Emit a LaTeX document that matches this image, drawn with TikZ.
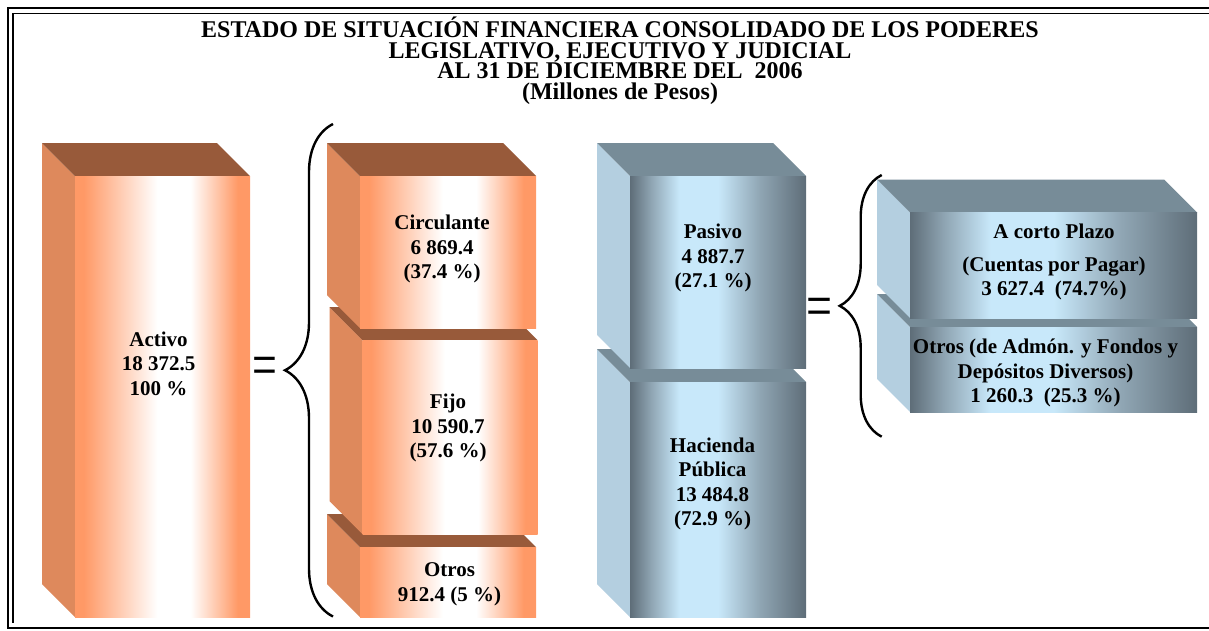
\documentclass[tikz,border=0pt]{standalone}
\usepackage{fontspec}
\setmainfont{Liberation Serif}
\usepackage{graphicx}
\usetikzlibrary{decorations.pathreplacing}

\definecolor{orgfront}{RGB}{255,153,102}
\definecolor{orgside}{RGB}{222,137,92}
\definecolor{orgtop}{RGB}{152,90,58}
\definecolor{bludark}{RGB}{94,109,120}
\definecolor{blumid}{RGB}{143,165,179}
\definecolor{blulight}{RGB}{200,232,250}
\definecolor{bluside}{RGB}{180,207,224}
\definecolor{blutop}{RGB}{119,140,152}

\pgfdeclarehorizontalshading{orgshade}{100bp}{color(0bp)=(orgfront); color(27.5bp)=(orgfront); color(48.5bp)=(white); color(58bp)=(white); color(71.5bp)=(orgfront); color(100bp)=(orgfront)}
\pgfdeclarehorizontalshading{blushade}{100bp}{color(0bp)=(bludark); color(25bp)=(bludark); color(31bp)=(blumid); color(39bp)=(blulight); color(50bp)=(blulight); color(62bp)=(blumid); color(75bp)=(bludark); color(100bp)=(bludark)}

\tikzset{
	boxtext/.style={font=\bfseries\fontsize{21}{24.5}\selectfont, align=center, inner sep=0pt, anchor=north},
	bigbrace/.style={decorate, decoration={brace, amplitude=#1}, line width=2.4pt},
	eqsign/.style={inner sep=0pt, font=\fontsize{40}{40}\selectfont}
}

% block: scheme, front face left, top, right, bottom
\newcommand{\block}[5]{%
	\fill[#1side] (#2-33, #3-33) -- (#2, #3) -- (#2, #5) -- (#2-33, #5-33) -- cycle;
	\fill[#1top] (#2-33, #3-33) -- (#4-33, #3-33) -- (#4, #3) -- (#2, #3) -- cycle;
	\shade[shading=#1shade] (#2, #3) rectangle (#4, #5);
}

\begin{document}
\begin{tikzpicture}[x=1pt, y=-1pt]
	\useasboundingbox (0, 0) rectangle (1209, 630);
	
	% frame
	\draw[line width=2.4pt] (1209, 8) -- (8, 8) -- (8, 628) -- (1209, 628);
	\draw[line width=1.5pt] (1209, 13.5) -- (13, 13.5) -- (13, 623);
	
	\node[font=\bfseries\fontsize{24}{20.8}\selectfont, align=center, inner sep=0pt, anchor=north] (title) at (620, 16.5)
	{ESTADO DE SITUACIÓN FINANCIERA CONSOLIDADO DE LOS PODERES\\
		LEGISLATIVO, EJECUTIVO Y JUDICIAL\\
		AL 31 DE DICIEMBRE DEL\ \ 2006\\
		(Millones de Pesos)};
	
	% blocks, lower ones first
	\foreach \sch/\l/\t/\r/\b in {org/75/176/250/617, org/360/547/536/617, org/362.5/340/537.5/534,
		org/360/176/536/328, blu/630/382/806/617, blu/630/176/806/368, blu/910/327/1197/412, blu/910/212.5/1197/318}{
		\block{\sch}{\l}{\t}{\r}{\b}
	}
	
	\node[boxtext] (activo) at (158.5, 331.5) {Activo\\18 372.5\\100 \%};
	\node[boxtext] (circ) at (442, 215) {Circulante\\6 869.4\\(37.4 \%)};
	\node[boxtext] (fijo) at (448, 394) {Fijo\\10 590.7\\(57.6 \%)};
	\node[boxtext] (otrosact) at (449.5, 562.5) {Otros\\912.4 (5 \%)};
	\node[boxtext] (pasivo) at (713, 224) {Pasivo\\4 887.7\\(27.1 \%)};
	\node[boxtext] (hacienda) at (712.5, 437.5) {Hacienda\\Pública\\13 484.8\\(72.9 \%)};
	\node[boxtext] (corto) at (1054, 224) {A corto Plazo\\[8pt](Cuentas por Pagar)\\3 627.4\ \ (74.7\%)};
	\node[boxtext] (otrospas) at (1045.5, 339) {Otros (de Admón. y Fondos y\\Depósitos Diversos)\\1 260.3\ \ (25.3 \%)};
	
	% equals and braces
	\node[eqsign] (eqact) at (265, 372) {\scalebox{1.1}[1.6]{=}};
	\node[eqsign] (eqpas) at (819.7, 312.7) {\scalebox{1.15}[1.6]{=}};
	\coordinate (actbot) at (333, 616.5);
	\coordinate (acttop) at (333, 124);
	\coordinate (pasbot) at (881.7, 436.7);
	\coordinate (pastop) at (881.7, 175);
	\draw[bigbrace=48] (actbot) -- (acttop);
	\draw[bigbrace=42] (pasbot) -- (pastop);
\end{tikzpicture}
\end{document}
